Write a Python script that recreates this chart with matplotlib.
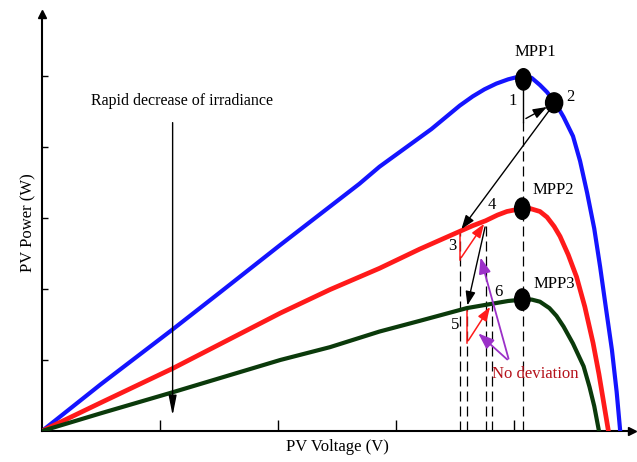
import matplotlib
matplotlib.use('Agg')
import matplotlib.pyplot as plt
from matplotlib.patches import Ellipse

plt.rcParams['font.family'] = ['Liberation Serif', 'DejaVu Serif']

# P-V curves (voltage in tick units, power in tick units)
blue_v = [0, 0.5, 1.107, 1.5, 2.02, 2.69, 2.86, 3.3, 3.54, 3.65, 3.75, 3.85, 3.95, 4.02, 4.08,
          4.15, 4.22, 4.28, 4.35, 4.42, 4.5, 4.56, 4.62, 4.68, 4.73, 4.78, 4.83, 4.87, 4.90]
blue_p = [0, 0.66, 1.43, 1.94, 2.62, 3.48, 3.72, 4.25, 4.58, 4.71, 4.81, 4.89, 4.95, 4.98, 5.0,
          4.97, 4.87, 4.77, 4.62, 4.42, 4.15, 3.80, 3.35, 2.85, 2.31, 1.72, 1.14, 0.55, 0]

red_v = [0, 0.5, 1.107, 2.02, 2.44, 2.86, 3.2, 3.54, 3.65, 3.76, 3.86, 3.94, 4.0, 4.07, 4.14,
         4.22, 4.28, 4.34, 4.39, 4.46, 4.53, 4.60, 4.67, 4.72, 4.76, 4.80]
red_p = [0, 0.40, 0.88, 1.66, 1.99, 2.29, 2.56, 2.81, 2.89, 2.96, 3.04, 3.09, 3.11, 3.13, 3.13,
         3.09, 3.01, 2.88, 2.74, 2.48, 2.17, 1.75, 1.24, 0.80, 0.40, 0]

green_v = [0, 0.5, 1.107, 2.02, 2.44, 2.86, 3.2, 3.60, 3.81, 3.95, 4.07, 4.15, 4.22, 4.30, 4.36,
           4.42, 4.50, 4.59, 4.64, 4.68, 4.72]
green_p = [0, 0.25, 0.545, 1.0, 1.18, 1.40, 1.55, 1.73, 1.79, 1.83, 1.85, 1.85, 1.82, 1.73, 1.62,
           1.47, 1.23, 0.91, 0.62, 0.35, 0]

# operating points 1..6 of the tracker
track_v = [4.08, 4.34, 3.54, 3.76, 3.60, 3.81]
track_p = [4.95, 4.62, 2.81, 2.95, 1.73, 1.78]
track_lbl = ['1', '2', '3', '4', '5', '6']

# maximum power points
mpp_v = [4.08, 4.07, 4.07]
mpp_p = [4.95, 3.13, 1.85]
mpp_lbl = ['MPP1', 'MPP2', 'MPP3']

fig = plt.figure(figsize=(6.37, 4.62), dpi=100)
ax = fig.add_axes([42 / 637, 31 / 462, 590 / 637, 417 / 462])
ax.set_xlim(0, 5.0)
ax.set_ylim(0, 5.87)

ax.plot(blue_v, blue_p, color='#1414ff', lw=3, solid_joinstyle='round', zorder=3)
ax.plot(red_v, red_p, color='#ff1a1a', lw=3.4, solid_joinstyle='round', zorder=3)
ax.plot(green_v, green_p, color='#0b3a0b', lw=3, solid_joinstyle='round', zorder=3)

# axes with arrow heads
for s in ['top', 'right']:
    ax.spines[s].set_visible(False)
for s in ['left', 'bottom']:
    ax.spines[s].set_linewidth(1.5)
ax.plot(1, 0, '>k', ms=6, transform=ax.transAxes, clip_on=False)
ax.plot(0, 1, '^k', ms=6, transform=ax.transAxes, clip_on=False)
ax.set_xticks([1, 2, 3, 4])
ax.set_yticks([1, 2, 3, 4, 5])
ax.tick_params(axis='x', direction='in', length=8, width=1, labelbottom=False)
ax.tick_params(axis='y', direction='in', length=4.5, width=1, labelleft=False)
ax.set_xlabel('PV Voltage (V)', fontsize=12, labelpad=6)
ax.set_ylabel('PV Power (W)', fontsize=12, labelpad=4)

# dashed projections to the voltage axis
for v, p in zip(track_v[2:], track_p[2:]):
    ax.plot([v, v], [0, p], color='k', lw=0.9, ls=(0, (8, 4)), zorder=2)
ax.plot([mpp_v[0], mpp_v[0]], [0, 4.35], color='k', lw=0.9, ls=(0, (8, 4)), zorder=2)
ax.plot([mpp_v[0], mpp_v[0]], [4.35, mpp_p[0]], color='k', lw=1, zorder=2)

# MPP dots (slightly oval) and operating point 2
for v, p in zip(mpp_v, mpp_p):
    ax.add_patch(Ellipse((v, p), 0.13, 0.3, color='k', zorder=5))
ax.add_patch(Ellipse((track_v[1], track_p[1]), 0.145, 0.28, color='k', zorder=5))

ax.text(4.18, 5.34, mpp_lbl[0], fontsize=12, ha='center', va='center')
ax.text(4.33, 3.39, mpp_lbl[1], fontsize=12, ha='center', va='center')
ax.text(4.34, 2.07, mpp_lbl[2], fontsize=12, ha='center', va='center')

lbl_pos = [(3.99, 4.65), (4.48, 4.70), (3.48, 2.61), (3.81, 3.18), (3.50, 1.49), (3.87, 1.96)]
for t, (x, y) in zip(track_lbl, lbl_pos):
    ax.text(x, y, t, fontsize=12, ha='center', va='center')

blk = dict(arrowstyle='-|>,head_width=0.25,head_length=0.7', color='k', lw=1, mutation_scale=12)
red = dict(arrowstyle='-|>,head_width=0.25,head_length=0.7', color='#ff1a1a', lw=1.1, mutation_scale=12)
pur = dict(arrowstyle='-|>,head_width=0.3,head_length=0.8', color='#9b30c8', lw=1.3, mutation_scale=12)

# 1 -> 2
ax.annotate('', xy=(track_v[1] - 0.04, track_p[1] - 0.04), xytext=(4.08, 4.38), arrowprops=blk)
# 2 -> 3
ax.annotate('', xy=(track_v[2], track_p[2]), xytext=(track_v[1] - 0.02, track_p[1] - 0.06), arrowprops=blk)
# 3 -> 4
ax.plot([track_v[2], track_v[2]], [track_p[2], 2.41], color='#ff1a1a', lw=1.1)
ax.annotate('', xy=(track_v[3], track_p[3]), xytext=(track_v[2], 2.41), arrowprops=red)
# 4 -> 5
ax.annotate('', xy=(track_v[4], track_p[4]), xytext=(track_v[3], track_p[3] - 0.04), arrowprops=blk)
# 5 -> 6
ax.plot([track_v[4], track_v[4]], [track_p[4], 1.24], color='#ff1a1a', lw=1.1)
ax.annotate('', xy=(track_v[5], track_p[5]), xytext=(track_v[4], 1.24), arrowprops=red)

# no deviation pointers
ax.annotate('', xy=(3.71, 2.48), xytext=(3.96, 0.98), arrowprops=pur)
ax.annotate('', xy=(3.68, 1.40), xytext=(3.96, 0.98), arrowprops=pur)
ax.text(3.81, 0.80, 'No deviation', fontsize=12, color='#b5121b', ha='left', va='center')

# irradiance drop
ax.text(1.19, 4.65, 'Rapid decrease of irradiance', fontsize=11.5, ha='center', va='center')
ax.annotate('', xy=(1.107, 0.18), xytext=(1.107, 4.38),
            arrowprops=dict(arrowstyle='-|>,head_width=0.2,head_length=1.0', color='k', lw=1, mutation_scale=12))

fig.savefig('out.png', dpi=100)
